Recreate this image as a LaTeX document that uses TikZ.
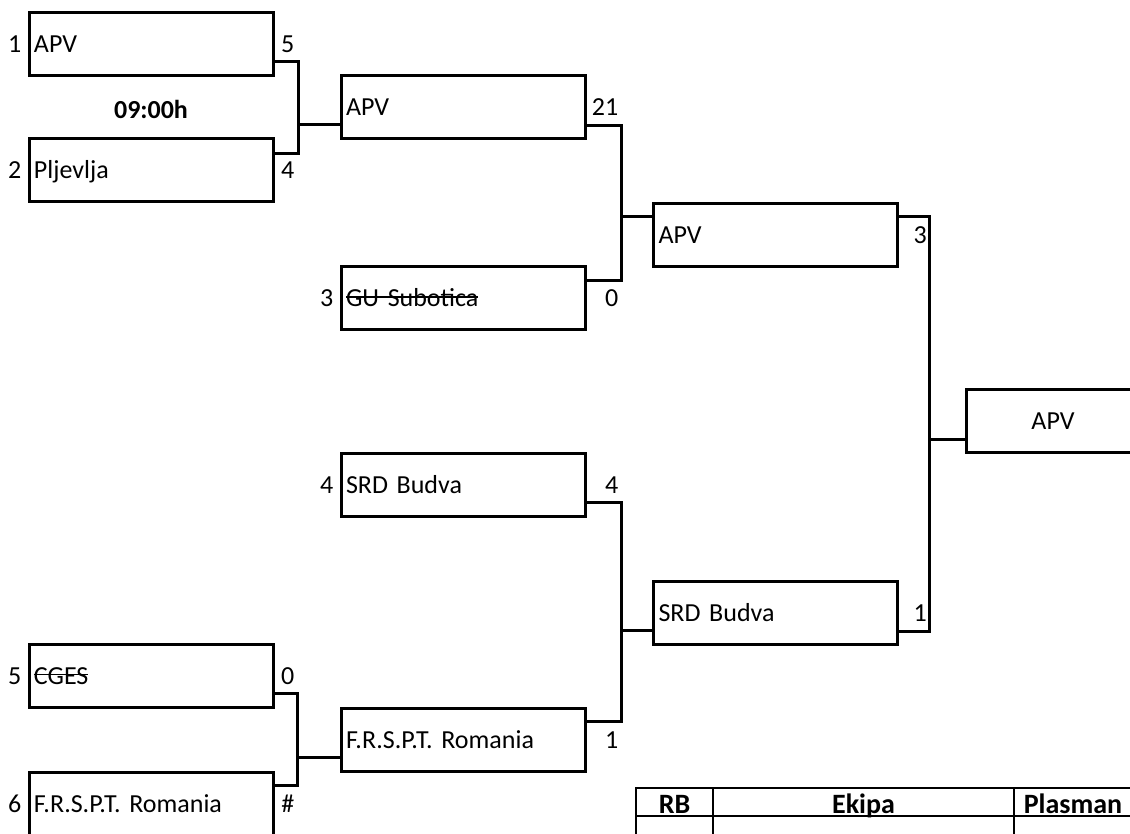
\documentclass[tikz,border=0pt]{standalone}
\usepackage{fontspec}
\setmainfont{Carlito}
\frenchspacing
\newsavebox{\gonebox}
\newcommand{\gone}[1]{\sbox{\gonebox}{#1}\rlap{\rule[9.4pt]{\wd\gonebox}{1.2pt}}\usebox{\gonebox}}
\newcommand{\teamfont}{\fontsize{26}{30}\selectfont}
\newcommand{\headfont}{\fontsize{28}{32}\selectfont\bfseries}
\begin{document}
\begin{tikzpicture}[x=1pt, y=1pt,
		team/.style={draw, line width=3pt, minimum height=63pt, text width=234pt, inner xsep=5pt, inner ysep=0pt, align=left, text height=17pt, text depth=0pt, font=\teamfont},
		every label/.style={inner sep=0pt, font=\teamfont, xshift=-6pt},
		score/.style={anchor=east, inner sep=0pt, text height=17pt, text depth=0pt, font=\teamfont},
		link/.style={line width=3pt},
		cell/.style={draw, line width=2.2pt, inner sep=0pt, text height=22pt, text depth=0pt, font=\headfont}]
		\useasboundingbox (0,0) rectangle (1130,-834);
		
		\node[team, label=left:1] (a1) at (151,-44.5) {APV};
		\node[team, label=left:2] (a2) at (151,-170.5) {Pljevlja};
		\node[team, label=left:5] (a3) at (151,-676) {\gone{CGES}};
		\node[team, label=left:6] (a4) at (151,-804) {F.R.S.P.T. Romania};
		\node[font=\teamfont\bfseries] (time) at (151,-109.5) {09:00h};
		
		\node[team] (b1) at (463,-107.5) {APV};
		\node[team, label=left:3] (b2) at (463,-298.5) {\gone{GU Subotica}};
		\node[team, label=left:4] (b3) at (463,-485) {SRD Budva};
		\node[team] (b4) at (463,-740) {F.R.S.P.T. Romania};
		
		\node[team] (c1) at (775.5,-235.5) {APV};
		\node[team] (c2) at (775.5,-612.5) {SRD Budva};
		
		\node[team, text width=164pt, align=center] (d) at (1053,-421) {APV};
		
		\foreach \n/\s/\d in {a1/5/20, a2/4/20, a3/0/20, a4/\#/20, b1/21/32, b2/0/32, b3/4/32, b4/1/32, c1/3/28, c2/1/28}
		\node[score] (s\n) at ([xshift=\d pt]\n.east) {\s};
		
		\foreach \p/\ps/\q/\qs/\w/\ws/\jd in {a1/-17.5/a2/16.5/b1/-17.5/41, a3/-17/a4/19/b4/-17/42, b1/-18.5/b2/17.5/c1/18.5/31, b3/-17/b4/19/c2/-17.5/31, c1/18.5/c2/-18.5/d/-18/35}{
		\coordinate (j) at ([xshift=-\jd pt, yshift=\ws pt]\w.west);
		\draw[link] ([yshift=\ps pt]\p.east) -| (j) |- ([yshift=\qs pt]\q.east);
		\draw[link] (j) -- ([yshift=\ws pt]\w.west);
		}
		
		\node[cell, minimum width=77pt, minimum height=28pt] (rb) at (674.5,-802) {RB};
		\node[cell, minimum width=301pt, minimum height=28pt] (ekipa) at (863.5,-802) {Ekipa};
		\node[cell, minimum width=118pt, minimum height=28pt] (plasman) at (1073,-802) {Plasman};
		\node[cell, minimum width=77pt, minimum height=30pt] (rb1) at (674.5,-831) {};
		\node[cell, minimum width=301pt, minimum height=30pt] (ekipa1) at (863.5,-831) {};
		\node[cell, minimum width=118pt, minimum height=30pt] (plasman1) at (1073,-831) {};
\end{tikzpicture}
\end{document}
